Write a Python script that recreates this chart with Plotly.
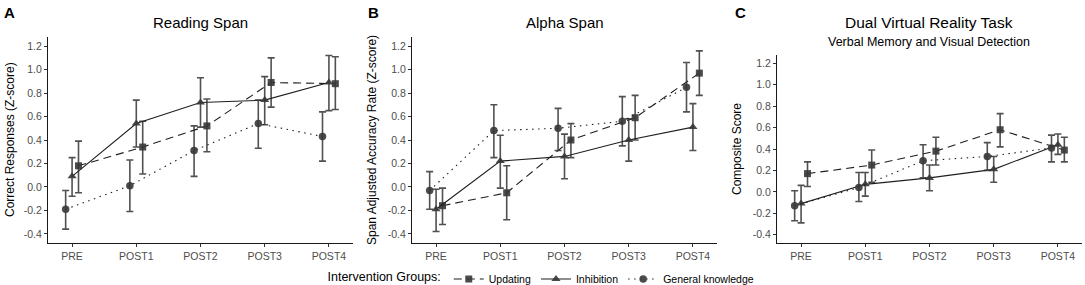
import plotly.graph_objects as go

# ---------------- data ----------------
timepoints = ["PRE", "POST1", "POST2", "POST3", "POST4"]
groups = ["Updating", "Inhibition", "General knowledge"]

# Panel A: Reading Span
A_upd = [0.18, 0.34, 0.52, 0.89, 0.88]
A_upd_hi = [0.39, 0.56, 0.75, 1.10, 1.11]
A_upd_lo = [-0.05, 0.11, 0.30, 0.68, 0.66]
A_inh = [0.09, 0.54, 0.72, 0.74, 0.89]
A_inh_hi = [0.25, 0.74, 0.93, 0.94, 1.12]
A_inh_lo = [-0.08, 0.34, 0.51, 0.53, 0.65]
A_gen = [-0.19, 0.01, 0.31, 0.54, 0.43]
A_gen_hi = [-0.03, 0.23, 0.52, 0.74, 0.64]
A_gen_lo = [-0.36, -0.21, 0.09, 0.33, 0.22]

# Panel B: Alpha Span
B_upd = [-0.16, -0.05, 0.40, 0.59, 0.97]
B_upd_hi = [-0.01, 0.18, 0.54, 0.78, 1.16]
B_upd_lo = [-0.32, -0.28, 0.25, 0.40, 0.78]
B_inh = [-0.19, 0.22, 0.26, 0.40, 0.51]
B_inh_hi = [-0.02, 0.44, 0.45, 0.58, 0.71]
B_inh_lo = [-0.38, -0.01, 0.07, 0.22, 0.31]
B_gen = [-0.03, 0.48, 0.50, 0.56, 0.85]
B_gen_hi = [0.13, 0.70, 0.67, 0.77, 1.06]
B_gen_lo = [-0.19, 0.25, 0.31, 0.35, 0.64]

# Panel C: Dual Virtual Reality Task
C_upd = [0.17, 0.25, 0.38, 0.58, 0.39]
C_upd_hi = [0.28, 0.39, 0.51, 0.73, 0.51]
C_upd_lo = [0.05, 0.09, 0.25, 0.42, 0.28]
C_inh = [-0.11, 0.07, 0.13, 0.21, 0.44]
C_inh_hi = [0.06, 0.18, 0.25, 0.33, 0.54]
C_inh_lo = [-0.29, -0.04, 0.01, 0.09, 0.35]
C_gen = [-0.13, 0.04, 0.29, 0.33, 0.41]
C_gen_hi = [0.01, 0.18, 0.44, 0.46, 0.53]
C_gen_lo = [-0.27, -0.09, 0.13, 0.20, 0.28]

y_ticks = [-0.4, -0.2, 0.0, 0.2, 0.4, 0.6, 0.8, 1.0, 1.2]

panels = [
    ("Reading Span", None, "Correct Responses (Z-score)", "A",
     [(A_upd, A_upd_hi, A_upd_lo), (A_inh, A_inh_hi, A_inh_lo), (A_gen, A_gen_hi, A_gen_lo)]),
    ("Alpha Span", None, "Span Adjusted Accuracy Rate (Z-score)", "B",
     [(B_upd, B_upd_hi, B_upd_lo), (B_inh, B_inh_hi, B_inh_lo), (B_gen, B_gen_hi, B_gen_lo)]),
    ("Dual Virtual Reality Task", "Verbal Memory and Visual Detection", "Composite Score", "C",
     [(C_upd, C_upd_hi, C_upd_lo), (C_inh, C_inh_hi, C_inh_lo), (C_gen, C_gen_hi, C_gen_lo)]),
]

# ---------------- style ----------------
W, H = 1085, 285
FONT = "Liberation Sans, Arial, sans-serif"
styles = {
    "Updating": dict(symbol="square", dash="8px,5px", size=7),
    "Inhibition": dict(symbol="triangle-up", dash="solid", size=8),
    "General knowledge": dict(symbol="circle", dash="1.5px,4.5px", size=7.5),
}
dodge = {"Updating": 0.1, "Inhibition": 0.0, "General knowledge": -0.1}

x_dom_px = [(48, 353), (412, 717), (777, 1082)]
y_top_px = [37, 37, 55]
y_bot_px = 243
title_x_px = [200, 565, 929]
ytitle_x_px = [10, 372, 737]
letter_x_px = [9, 373, 740]

fig = go.Figure()
layout = dict(
    width=W, height=H, autosize=False,
    margin=dict(l=0, r=0, t=0, b=0, autoexpand=False),
    paper_bgcolor="white", plot_bgcolor="white",
    font=dict(family=FONT, color="black"),
    showlegend=True,
    legend=dict(
        orientation="h", x=0.5, xanchor="center", y=-0.03, yanchor="bottom",
        title=dict(text="Intervention Groups:", side="left", font=dict(size=12.5, color="black")),
        font=dict(size=10.5, color="black"),
        bgcolor="rgba(0,0,0,0)", itemwidth=30, tracegroupgap=0,
    ),
)
annotations = []

for p, (title, subtitle, ytitle, letter, series) in enumerate(panels):
    xa = "x" if p == 0 else f"x{p+1}"
    ya = "y" if p == 0 else f"y{p+1}"
    xkey = "xaxis" if p == 0 else f"xaxis{p+1}"
    ykey = "yaxis" if p == 0 else f"yaxis{p+1}"
    x0, x1 = x_dom_px[p]
    layout[xkey] = dict(
        domain=[x0 / W, x1 / W], anchor=ya, range=[-0.375, 4.375],
        tickmode="array", tickvals=list(range(len(timepoints))), ticktext=timepoints,
        showline=True, linecolor="#1a1a1a", linewidth=1.1,
        ticks="outside", ticklen=3, tickcolor="#333333", tickwidth=1,
        tickfont=dict(size=10.5, color="#4d4d4d", family=FONT),
        showgrid=False, zeroline=False, fixedrange=True, automargin=False,
    )
    layout[ykey] = dict(
        domain=[1 - y_bot_px / H, 1 - y_top_px[p] / H], anchor=xa, range=[-0.478, 1.278],
        tickmode="array", tickvals=y_ticks, ticktext=[f"{v:.1f}" for v in y_ticks],
        showline=True, linecolor="#1a1a1a", linewidth=1.1,
        ticks="outside", ticklen=3, tickcolor="#333333", tickwidth=1,
        tickfont=dict(size=10.5, color="#4d4d4d", family=FONT),
        showgrid=False, zeroline=False, fixedrange=True, automargin=False,
    )
    for g, (vals, hi, lo) in zip(groups, series):
        st = styles[g]
        xs = [i + dodge[g] for i in range(len(timepoints))]
        fig.add_trace(go.Scatter(
            x=xs, y=vals, xaxis=xa, yaxis=ya, name=g, legendgroup=g,
            showlegend=(p == 0), mode="lines+markers",
            line=dict(color="#1f1f1f", width=1.1, dash=st["dash"]),
            marker=dict(symbol=st["symbol"], size=st["size"], color="rgba(55,55,55,0.9)",
                        line=dict(width=0)),
            error_y=dict(type="data", symmetric=False,
                         array=[h - v for h, v in zip(hi, vals)],
                         arrayminus=[v - l for v, l in zip(vals, lo)],
                         color="rgba(50,50,50,0.85)", thickness=1.6, width=3.5),
        ))
    annotations.append(dict(text=title, x=title_x_px[p] / W, y=1 - 22 / H, xref="paper", yref="paper",
                            showarrow=False, xanchor="center", yanchor="middle",
                            font=dict(size=15.5 if subtitle else 15, color="black", family=FONT)))
    if subtitle:
        annotations.append(dict(text=subtitle, x=title_x_px[p] / W, y=1 - 42 / H, xref="paper", yref="paper",
                                showarrow=False, xanchor="center", yanchor="middle",
                                font=dict(size=12.5, color="black", family=FONT)))
    annotations.append(dict(text=f"<b>{letter}</b>", x=letter_x_px[p] / W, y=1 - 12 / H,
                            xref="paper", yref="paper", showarrow=False,
                            xanchor="center", yanchor="middle",
                            font=dict(size=15, color="black", family=FONT)))
    yc = (y_top_px[p] + y_bot_px) / 2
    annotations.append(dict(text=ytitle, x=ytitle_x_px[p] / W, y=1 - yc / H, xref="paper", yref="paper",
                            showarrow=False, xanchor="center", yanchor="middle", textangle=-90,
                            font=dict(size=12, color="black", family=FONT)))

layout["annotations"] = annotations
fig.update_layout(**layout)
fig.write_html("out.html", config={"displayModeBar": False},
               post_script="document.body.style.margin='0';document.body.style.overflow='hidden';")
